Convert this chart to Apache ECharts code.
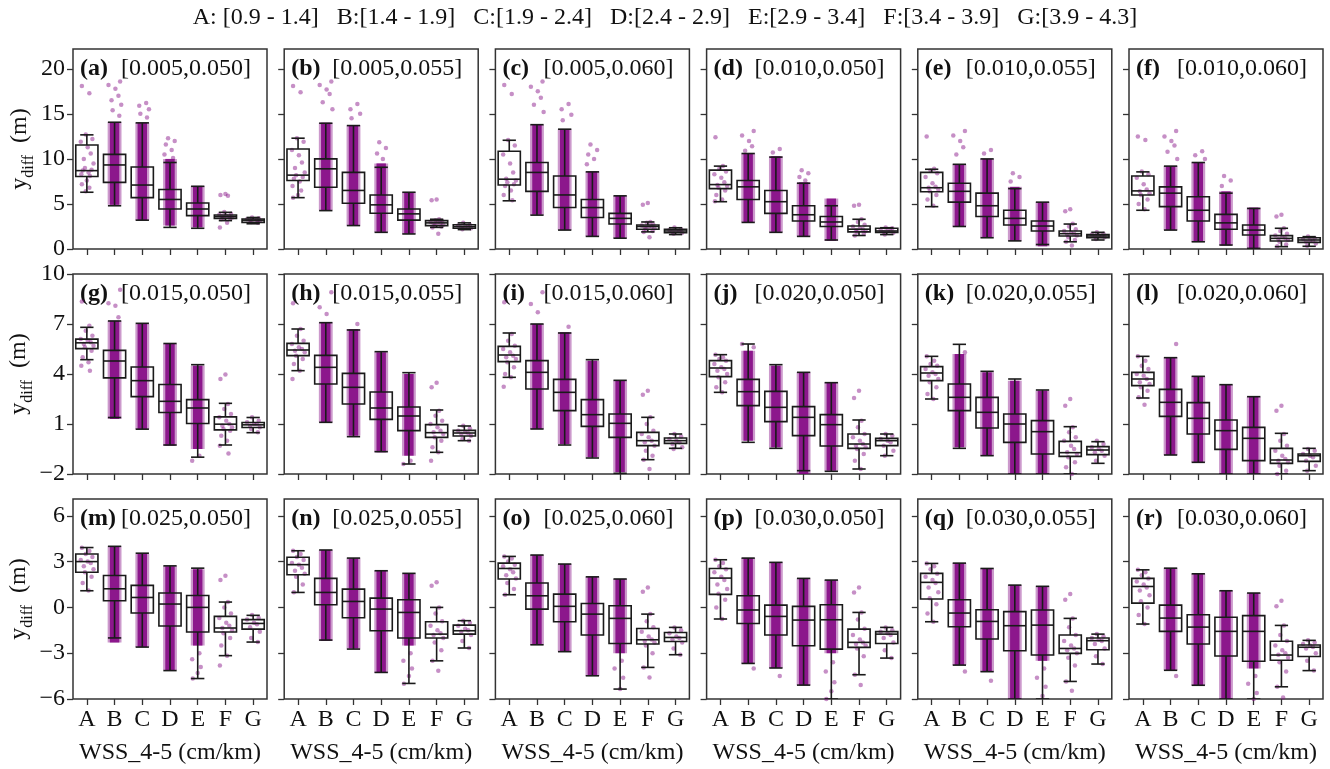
<!DOCTYPE html>
<html><head><meta charset="utf-8">
<script src="https://cdn.jsdelivr.net/npm/echarts@6/dist/echarts.min.js"></script>
<style>html,body{margin:0;padding:0;background:#fff}#c{width:1330px;height:769px}</style>
</head><body><div id="c"></div>
<script>
const categories = ['A','B','C','D','E','F','G'];
const legendText = 'A: [0.9 - 1.4]   B:[1.4 - 1.9]   C:[1.9 - 2.4]   D:[2.4 - 2.9]   E:[2.9 - 3.4]   F:[3.4 - 3.9]   G:[3.9 - 4.3]';
const panelLetters = ['(a)','(b)','(c)','(d)','(e)','(f)','(g)','(h)','(i)','(j)','(k)','(l)','(m)','(n)','(o)','(p)','(q)','(r)'];
const panelRanges = ['[0.005,0.050]','[0.005,0.055]','[0.005,0.060]','[0.010,0.050]','[0.010,0.055]','[0.010,0.060]',
  '[0.015,0.050]','[0.015,0.055]','[0.015,0.060]','[0.020,0.050]','[0.020,0.055]','[0.020,0.060]',
  '[0.025,0.050]','[0.025,0.055]','[0.025,0.060]','[0.030,0.050]','[0.030,0.055]','[0.030,0.060]'];
const yTicksRow1 = [0,5,10,15,20];
const yTicksRow2 = [-2,1,4,7,10];
const yTicksRow3 = [-6,-3,0,3,6];
const yRangeRow1 = [0,22.2];
const yRangeRow2 = [-2,10];
const yRangeRow3 = [-6,7.1];
const xAxisName = 'WSS_4-5 (cm/km)';

// box stats per category: [lower whisker, q1, median, q3, upper whisker]
const box_a = [[6.3,8.05,8.7,11.55,12.67],[4.8,7.4,9.33,10.5,14.07],[3.2,5.7,7.1,9.1,14.0],[2.4,4.44,5.5,6.6,9.6],[2.3,3.7,4.44,5.1,6.96],[3.15,3.4,3.6,3.78,4.07],[2.8,2.96,3.2,3.33,3.5]];
const box_b = [[5.7,7.6,8.2,11.1,12.3],[4.26,6.85,8.9,10.0,13.96],[2.6,5.07,6.5,8.5,13.7],[1.85,3.96,4.9,6.0,9.07],[1.67,3.2,3.9,4.44,6.3],[2.4,2.6,2.9,3.15,3.3],[2.15,2.3,2.48,2.7,2.9]];
const box_c = [[5.35,7.1,7.75,10.85,12.07],[3.76,6.4,8.5,9.6,13.8],[2.1,4.6,6.0,8.1,13.3],[1.4,3.5,4.6,5.5,8.56],[1.2,2.77,3.4,3.95,5.9],[1.9,2.2,2.5,2.66,3.0],[1.6,1.8,2.0,2.2,2.36]];
const box_d = [[5.25,6.7,7.15,8.75,9.2],[2.95,5.5,6.9,7.6,10.6],[1.85,3.95,5.25,6.5,10.2],[1.4,3.1,3.8,4.8,7.3],[1.0,2.5,3.0,3.6,4.8],[1.5,1.9,2.2,2.55,3.3],[1.6,1.85,2.0,2.3,2.36]];
const box_e = [[4.7,6.35,6.8,8.5,8.85],[2.5,5.2,6.4,7.3,9.4],[1.25,3.6,4.8,6.2,10.0],[0.9,2.66,3.4,4.3,6.7],[0.5,2.0,2.55,3.1,5.2],[0.8,1.44,1.7,2.0,2.77],[1.0,1.25,1.44,1.6,1.85]];
const box_f = [[4.3,6.0,6.45,8.1,8.56],[2.1,4.7,6.2,6.9,9.2],[0.8,3.1,4.3,5.8,9.6],[0.44,2.2,2.9,3.84,6.2],[0.07,1.55,2.1,2.66,4.5],[0.26,0.89,1.18,1.48,2.3],[0.3,0.74,1.0,1.25,1.37]];
const box_g = [[4.86,5.52,5.87,6.09,6.8],[1.39,3.77,4.78,5.42,7.18],[0.69,2.64,3.6,4.42,7.04],[-0.26,1.69,2.36,3.37,5.83],[-0.99,1.03,1.96,2.46,4.56],[-0.26,0.65,0.99,1.43,2.24],[0.48,0.79,0.95,1.09,1.39]];
const box_h = [[4.2,5.1,5.44,5.84,6.7],[1.1,3.4,4.4,5.12,7.08],[0.24,2.2,3.2,4.04,6.64],[-0.66,1.28,1.96,2.92,5.34],[-1.4,0.6,1.48,2.02,4.08],[-0.7,0.2,0.48,0.96,1.84],[0.0,0.28,0.46,0.62,0.88]];
const box_i = [[3.8,4.74,5.14,5.66,6.46],[0.7,3.1,4.1,4.8,7.0],[-0.26,1.8,2.9,3.68,6.46],[-1.04,0.86,1.56,2.46,4.86],[-1.96,0.2,1.04,1.6,3.62],[-1.14,-0.3,0.0,0.5,1.4],[-0.46,-0.16,0.0,0.16,0.4]];
const box_j = [[2.9,3.84,4.36,4.8,5.16],[-0.1,2.1,2.94,3.68,5.8],[-0.46,1.14,2.0,2.96,4.56],[-1.8,0.3,1.4,2.04,4.1],[-1.84,-0.32,0.96,1.56,3.48],[-1.7,-0.46,-0.2,0.4,1.24],[-0.9,-0.3,0.0,0.14,0.4]];
const box_k = [[2.5,3.6,4.06,4.44,5.06],[-0.46,1.8,2.6,3.4,5.78],[-0.9,0.76,1.7,2.6,4.16],[-2.0,-0.1,1.0,1.6,3.7],[-2.0,-0.8,0.54,1.2,3.04],[-2.0,-0.94,-0.72,-0.04,0.84],[-1.36,-0.84,-0.56,-0.36,-0.06]];
const box_l = [[2.56,3.3,3.7,4.1,5.06],[-0.86,1.46,2.3,3.08,4.98],[-1.3,0.4,1.34,2.28,3.86],[-2.0,-0.52,0.6,1.24,3.36],[-2.0,-1.2,0.14,0.8,2.64],[-2.0,-1.36,-1.16,-0.46,0.44],[-1.8,-1.24,-0.9,-0.8,-0.46]];
const box_m = [[1.09,2.3,3.0,3.5,3.92],[-2.0,0.44,1.22,2.09,4.0],[-2.6,-0.37,0.65,1.44,3.55],[-4.14,-1.22,0.22,0.94,2.72],[-4.66,-1.61,0.0,0.78,2.57],[-3.16,-1.61,-1.35,-0.59,0.35],[-2.27,-1.42,-1.05,-0.8,-0.52]];
const box_n = [[0.98,2.14,2.8,3.28,3.71],[-2.14,0.17,0.98,1.9,3.76],[-2.73,-0.68,0.39,1.2,3.23],[-4.26,-1.53,-0.11,0.61,2.4],[-4.98,-2.0,-0.33,0.5,2.23],[-3.5,-2.0,-1.75,-0.94,0.0],[-2.66,-1.75,-1.53,-1.16,-0.87]];
const box_o = [[0.83,1.86,2.55,2.9,3.34],[-2.45,-0.11,0.76,1.6,3.43],[-2.9,-0.94,0.07,0.87,2.84],[-4.48,-1.81,-0.44,0.26,2.0],[-5.35,-2.36,-0.72,0.11,1.86],[-3.93,-2.4,-2.12,-1.38,-0.44],[-3.1,-2.23,-1.97,-1.64,-1.31]];
const box_p = [[-0.76,0.85,1.92,2.55,3.12],[-3.67,-1.05,-0.17,0.76,3.23],[-3.97,-1.81,-0.59,0.15,2.95],[-5.09,-2.51,-0.83,0.07,1.9],[-6.0,-2.73,-0.81,0.17,1.79],[-4.41,-2.62,-2.29,-1.42,-0.33],[-3.32,-2.36,-1.75,-1.59,-1.31]];
const box_q = [[-0.94,0.55,1.64,2.23,2.88],[-3.78,-1.27,-0.37,0.5,2.9],[-4.21,-2.07,-0.92,-0.15,2.55],[-6.0,-2.84,-1.2,-0.28,1.46],[-6.0,-3.12,-1.16,-0.17,1.38],[-4.85,-3.01,-2.69,-1.81,-0.72],[-3.71,-2.77,-2.18,-2.0,-1.75]];
const box_r = [[-1.09,0.28,1.37,1.9,2.46],[-4.12,-1.57,-0.7,0.15,2.57],[-5.1,-2.4,-1.29,-0.48,2.2],[-6.0,-3.18,-1.57,-0.65,1.09],[-6.0,-3.53,-1.57,-0.54,0.94],[-5.2,-3.46,-3.12,-2.22,-1.18],[-4.14,-3.22,-2.61,-2.46,-2.16]];

// dense ranges of the strip points per category: [low, high] or null
const band_a = [null,[4.9,14.1],[3.2,14.0],[2.6,10.0],[2.4,7.0],null,null];
const band_b = [null,[4.3,14.0],[2.6,13.7],[1.9,9.5],[1.7,6.3],null,null];
const band_c = [null,[3.8,13.8],[2.1,13.3],[1.4,8.6],[1.2,5.9],null,null];
const band_d = [null,[3.0,10.6],[1.9,10.3],[1.4,7.4],[0.9,5.6],null,null];
const band_e = [null,[2.5,9.4],[1.3,10.0],[0.9,6.9],[0.3,5.2],null,null];
const band_f = [null,[2.1,9.2],[0.8,9.6],[0.4,6.4],[0.05,4.6],null,null];
const band_g = [null,[1.3,7.2],[0.7,7.0],[-0.3,5.8],[-0.5,4.5],null,null];
const band_h = [null,[1.1,7.1],[0.3,6.7],[-0.7,5.3],[-0.9,4.0],null,null];
const band_i = [null,[0.7,7.0],[-0.2,6.5],[-1.0,4.8],[-1.9,3.6],null,null];
const band_j = [null,[0.0,5.4],[-0.4,4.5],[-2.0,4.1],[-1.8,3.5],null,null];
const band_k = [null,[-0.4,5.2],[-0.9,4.1],[-2.0,3.6],[-2.0,3.0],null,null];
const band_l = [null,[-0.86,5.0],[-1.3,3.86],[-2.0,3.36],[-2.0,2.64],null,null];
const band_m = [null,[-2.3,4.0],[-2.6,3.5],[-4.1,2.7],[-2.5,2.5],null,null];
const band_n = [null,[-2.2,3.76],[-2.7,3.2],[-4.3,2.4],[-2.5,2.2],null,null];
const band_o = [null,[-2.45,3.43],[-2.9,2.84],[-4.5,2.0],[-3.0,1.86],null,null];
const band_p = [null,[-3.67,3.23],[-3.97,2.95],[-5.1,1.9],[-3.0,1.79],null,null];
const band_q = [null,[-3.78,2.9],[-4.21,2.55],[-6.0,1.46],[-3.5,1.38],null,null];
const band_r = [null,[-4.12,2.57],[-5.1,2.2],[-6.0,1.09],[-4.0,0.94],null,null];

// individually visible strip points per category
const pts_a = [[18.1,17.3,12.7,12.2,11.9,11.3,10.6,10.0,9.5,9.0,8.8,8.7,8.5,8.3,8.1,7.6,7.2,6.8,6.4],[18.6,18.2,17.8,17.0,16.5,16.0,15.4,14.8],[16.2,15.9,15.5,15.0,14.6],[12.3,12.0,11.6,11.0,10.5,10.1],[],[6.1,6.0,5.9,4.1,3.9,3.8,3.7,3.6,3.6,3.5,3.5,3.4,3.3,2.9,2.4],[3.5,3.4,3.3,3.3,3.2,3.2,3.1,3.0,2.9]];
const pts_b = [[18.1,17.4,12.3,11.9,11.0,10.4,9.6,9.0,8.5,8.2,8.0,7.8,7.5,7.0,6.5,6.0,5.7],[18.6,18.2,17.7,17.2,16.3,15.5],[16.1,15.5,15.0,14.5],[11.85,11.2,10.6,10.0],[],[5.5,5.4,3.3,3.2,3.1,3.0,2.9,2.9,2.8,2.7,2.6,2.5,2.4,1.7],[2.9,2.7,2.6,2.5,2.5,2.4,2.3,2.2]];
const pts_c = [[18.2,17.2,12.1,11.5,10.5,9.5,8.5,7.8,7.6,7.4,7.2,7.0,6.5,6.0,5.4],[18.6,18.0,17.5,16.8,16.0,15.2],[16.1,15.5,14.9,14.3],[11.6,11.0,10.5,10.0,9.4],[],[5.1,4.9,3.0,2.9,2.7,2.6,2.5,2.5,2.4,2.3,2.2,2.0,1.9,1.3],[2.4,2.2,2.1,2.0,2.0,1.9,1.8,1.7]];
const pts_d = [[12.4,9.2,8.9,8.6,8.3,7.9,7.4,7.1,7.0,6.8,6.5,6.0,5.5,5.3],[13.1,12.6,12.0,11.4,10.9],[11.1,10.7],[8.75,8.4,8.0,7.6],[],[4.9,4.8,3.3,3.0,2.7,2.5,2.3,2.2,2.1,2.0,1.9,1.7,1.5],[2.4,2.3,2.1,2.0,2.0,1.9,1.8,1.6]];
const pts_e = [[12.5,8.9,8.7,8.4,8.0,7.3,6.9,6.8,6.6,6.4,6.0,5.5,4.8],[13.1,12.6,12.0,11.3,10.5],[11.0,10.6],[8.4,8.0,7.5],[],[4.4,4.2,2.8,2.5,2.2,2.0,1.8,1.7,1.6,1.5,1.3,1.0,0.8,0.4],[1.85,1.7,1.6,1.5,1.45,1.4,1.3,1.1]];
const pts_f = [[12.5,12.1,8.6,8.3,7.9,7.2,6.6,6.4,6.2,6.0,5.5,5.0,4.4],[13.1,12.5,12.0,11.5,10.8,10.0],[10.85,10.4,10.0],[8.1,7.6,7.0],[],[3.8,3.6,2.3,2.0,1.7,1.5,1.3,1.2,1.1,1.0,0.8,0.5,0.3],[1.4,1.2,1.1,1.0,0.9,0.8,0.6,0.35]];
const pts_g = [[8.35,6.9,6.6,6.3,6.1,6.0,5.9,5.8,5.7,5.6,5.4,5.0,4.7,4.5,4.2],[9.05,8.25,8.1,7.4],[],[],[-0.9,-1.2],[3.97,3.7,2.2,1.9,1.6,1.4,1.2,1.0,0.9,0.8,0.7,0.6,0.3,0.0,-0.3,-0.77],[1.4,1.2,1.1,1.0,1.0,0.9,0.8,0.7,0.5]];
const pts_h = [[8.24,6.7,6.3,6.0,5.8,5.6,5.5,5.4,5.3,5.1,4.9,4.6,4.2,3.7],[8.9,8.0,7.6],[7.0],[],[-1.2,-1.4],[3.48,3.2,1.8,1.5,1.2,1.0,0.8,0.6,0.5,0.4,0.2,0.0,-0.4,-0.7,-1.2],[0.9,0.75,0.6,0.5,0.45,0.4,0.3,0.1,0.0]];
const pts_i = [[8.3,6.4,6.0,5.7,5.5,5.3,5.1,5.0,4.9,4.7,4.4,4.0,3.8,3.24],[8.9,8.2,7.7],[6.84],[],[],[3.0,2.76,1.4,1.0,0.6,0.4,0.2,0.0,-0.1,-0.3,-0.6,-0.9,-1.14,-1.7],[0.4,0.25,0.1,0.0,-0.1,-0.2,-0.4,-0.5]];
const pts_j = [[5.16,5.0,4.9,4.8,4.6,4.4,4.3,4.2,4.0,3.8,3.5,3.2,2.9],[5.6,5.8],[],[],[],[3.0,2.56,1.2,0.8,0.4,0.2,0.0,-0.2,-0.3,-0.4,-0.5,-0.8,-1.2,-1.7],[0.4,0.3,0.1,0.0,-0.1,-0.3,-0.6,-0.9]];
const pts_k = [[5.06,4.8,4.6,4.5,4.3,4.1,4.0,3.9,3.7,3.5,3.2,2.8,2.5],[5.3],[],[],[],[2.5,2.1,0.8,0.5,0.2,0.0,-0.3,-0.5,-0.7,-0.8,-1.0,-1.3,-1.6,-2.0],[0.0,-0.2,-0.4,-0.5,-0.6,-0.7,-0.9,-1.2]];
const pts_l = [[5.06,4.8,4.5,4.3,4.0,3.9,3.7,3.5,3.4,3.2,3.0,2.6,2.16],[5.8],[],[],[],[2.1,1.8,0.4,0.0,-0.3,-0.6,-0.9,-1.1,-1.2,-1.3,-1.5,-1.8,-2.0],[-0.5,-0.6,-0.8,-0.9,-1.0,-1.2,-1.5,-1.8]];
const pts_m = [[3.9,3.7,3.5,3.3,3.1,3.0,2.9,2.7,2.5,2.3,2.0,1.6,1.1],[],[],[],[-3.0,-3.4,-3.9,-4.3,-4.66],[2.07,1.8,0.35,0.0,-0.4,-0.7,-1.0,-1.2,-1.35,-1.5,-1.7,-2.0,-2.5,-3.16,-3.8],[-0.5,-0.7,-0.8,-1.0,-1.1,-1.3,-1.6,-2.0,-2.27]];
const pts_n = [[3.71,3.5,3.3,3.1,2.9,2.8,2.6,2.4,2.2,2.0,1.5,1.0],[],[],[],[-3.0,-3.5,-4.0,-4.5,-5.0],[1.64,1.42,0.0,-0.4,-0.9,-1.2,-1.5,-1.7,-1.8,-2.0,-2.3,-2.8,-3.5,-4.15],[-0.87,-1.0,-1.2,-1.4,-1.5,-1.6,-1.8,-2.2,-2.66]];
const pts_o = [[3.34,3.2,3.0,2.8,2.7,2.5,2.3,2.1,1.9,1.6,1.2,0.83],[],[],[],[-3.5,-4.0,-4.6,-5.35],[1.31,1.03,-0.44,-0.9,-1.3,-1.6,-1.9,-2.1,-2.2,-2.3,-2.5,-3.0,-3.93,-4.59],[-1.31,-1.5,-1.7,-1.9,-2.0,-2.1,-2.3,-2.7,-3.1]];
const pts_p = [[3.12,2.9,2.7,2.5,2.3,2.0,1.8,1.5,1.2,0.9,0.5,0.0,-0.76],[-4.0],[-4.5],[],[-3.6,-4.2,-4.9,-5.5,-6.0],[1.31,0.98,-0.33,-0.8,-1.4,-1.8,-2.1,-2.3,-2.4,-2.5,-2.7,-3.2,-4.41,-5.09],[-1.31,-1.5,-1.6,-1.7,-1.8,-2.0,-2.3,-2.8,-3.32]];
const pts_q = [[2.88,2.7,2.5,2.2,2.0,1.8,1.6,1.3,1.0,0.6,0.2,-0.4,-0.94],[-4.2],[-4.8],[],[-4.0,-4.6,-5.2,-5.8],[0.87,0.5,-0.72,-1.3,-1.8,-2.2,-2.5,-2.7,-2.8,-3.0,-3.3,-3.8,-4.85,-5.46],[-1.75,-1.9,-2.0,-2.1,-2.2,-2.4,-2.7,-3.2,-3.71]];
const pts_r = [[2.46,2.3,2.1,1.9,1.7,1.5,1.3,1.1,0.8,0.4,0.0,-0.5,-1.09],[-4.5],[],[],[-4.5,-5.0,-5.6,-6.0],[0.44,0.07,-1.18,-1.8,-2.2,-2.5,-2.8,-3.0,-3.1,-3.3,-3.6,-4.2,-5.2,-5.9],[-2.16,-2.3,-2.4,-2.5,-2.6,-2.7,-3.0,-3.5,-4.14]];

const boxes = [box_a,box_b,box_c,box_d,box_e,box_f,box_g,box_h,box_i,box_j,box_k,box_l,box_m,box_n,box_o,box_p,box_q,box_r];
const bands = [band_a,band_b,band_c,band_d,band_e,band_f,band_g,band_h,band_i,band_j,band_k,band_l,band_m,band_n,band_o,band_p,band_q,band_r];
const points = [pts_a,pts_b,pts_c,pts_d,pts_e,pts_f,pts_g,pts_h,pts_i,pts_j,pts_k,pts_l,pts_m,pts_n,pts_o,pts_p,pts_q,pts_r];
const rowTicks = [yTicksRow1, yTicksRow2, yTicksRow3];
const rowRanges = [yRangeRow1, yRangeRow2, yRangeRow3];

// ---- layout / style ----
const FONT = '"Liberation Serif","Times New Roman",serif';
const GL = 73, GSTEP = 211.2, GW = 194, GTOPS = [49, 274, 499], GH = 200;
const JIT = [-0.18,0.09,-0.04,0.2,-0.22,0.03,0.14,-0.11,0.24,-0.07,0.17,-0.15,0.06,-0.2,0.11,0.0];
const fmtNum = v => (v < 0 ? '\u2212' + Math.abs(v) : String(v));

function renderBox(params, api) {
  const x = api.value(0), lo = api.value(1), q1 = api.value(2), med = api.value(3), q3 = api.value(4), hi = api.value(5);
  const bw = 0.4, cw = 0.24;
  const tl = api.coord([x - bw, q3]), br = api.coord([x + bw, q1]);
  const mL = api.coord([x - bw, med]), mR = api.coord([x + bw, med]);
  const h = api.coord([x, hi]), l = api.coord([x, lo]);
  const chL = api.coord([x - cw, hi]), chR = api.coord([x + cw, hi]);
  const clL = api.coord([x - cw, lo]), clR = api.coord([x + cw, lo]);
  const st = {stroke: '#1a1a1a', lineWidth: 1.6, fill: null};
  return {type: 'group', children: [
    {type: 'line', shape: {x1: h[0], y1: h[1], x2: h[0], y2: tl[1]}, style: st},
    {type: 'line', shape: {x1: l[0], y1: l[1], x2: l[0], y2: br[1]}, style: st},
    {type: 'line', shape: {x1: chL[0], y1: chL[1], x2: chR[0], y2: chR[1]}, style: st},
    {type: 'line', shape: {x1: clL[0], y1: clL[1], x2: clR[0], y2: clR[1]}, style: st},
    {type: 'rect', shape: {x: tl[0], y: tl[1], width: br[0] - tl[0], height: br[1] - tl[1]}, style: {stroke: '#1a1a1a', lineWidth: 1.6, fill: 'none'}},
    {type: 'line', shape: {x1: mL[0], y1: mL[1], x2: mR[0], y2: mR[1]}, style: st}
  ]};
}
function renderBand(params, api) {
  const x = api.value(0), lo = api.value(1), hi = api.value(2);
  const a = api.coord([x - 0.17, hi]), b = api.coord([x + 0.17, lo]);
  const a2 = api.coord([x - 0.25, hi]), b2 = api.coord([x + 0.25, lo]);
  return {type: 'group', children: [
    {type: 'rect', shape: {x: a2[0], y: a2[1], width: b2[0] - a2[0], height: b2[1] - a2[1]}, style: {fill: 'rgba(128,0,128,0.4)'}},
    {type: 'rect', shape: {x: a[0], y: a[1], width: b[0] - a[0], height: b[1] - a[1]}, style: {fill: 'rgba(128,0,128,0.85)'}}
  ]};
}

const grid = [], xAxis = [], yAxis = [], series = [], graphic = [];
graphic.push({type: 'text', x: 665, y: 18, style: {text: legendText, font: '24px ' + FONT, fill: '#111', align: 'center', verticalAlign: 'middle', textAlign: 'center', textVerticalAlign: 'middle'}});

for (let g = 0; g < 18; g++) {
  const r = Math.floor(g / 6), c = g % 6;
  const left = GL + c * GSTEP, top = GTOPS[r];
  grid.push({left: left, top: top, width: GW, height: GH, show: true, borderColor: '#333', borderWidth: 1.5, backgroundColor: 'transparent'});
  xAxis.push({
    type: 'category', gridIndex: g, data: categories, boundaryGap: true, position: 'bottom',
    axisLine: {show: false, onZero: false},
    axisTick: {show: true, alignWithLabel: true, length: 6, lineStyle: {color: '#333', width: 1.3}},
    axisLabel: {show: r === 2, margin: 9, fontFamily: FONT, fontSize: 24, color: '#111'},
    name: r === 2 ? xAxisName : '', nameLocation: 'middle', nameGap: 42,
    nameTextStyle: {fontFamily: FONT, fontSize: 24, color: '#111'}
  });
  xAxis.push({type: 'value', gridIndex: g, min: -0.5, max: 6.5, show: false, axisLine: {onZero: false}});
  yAxis.push({
    type: 'value', gridIndex: g, min: rowRanges[r][0], max: rowRanges[r][1], position: 'left',
    axisLine: {show: false, onZero: false}, splitLine: {show: false},
    axisTick: {show: true, length: 6, customValues: rowTicks[r], lineStyle: {color: '#333', width: 1.3}},
    axisLabel: {show: c === 0, customValues: rowTicks[r], margin: 8, fontFamily: FONT, fontSize: 24, color: '#111', formatter: fmtNum},
    name: c === 0 ? '{y|y}{s|diff}  {m|(m)}' : '', nameLocation: 'middle', nameGap: 27, nameRotate: 90,
    nameTextStyle: {fontFamily: FONT, fontSize: 24, color: '#111', rich: {
      y: {fontFamily: FONT, fontSize: 24, color: '#111', lineHeight: 34},
      s: {fontFamily: FONT, fontSize: 16, color: '#111', verticalAlign: 'bottom', lineHeight: 16},
      m: {fontFamily: FONT, fontSize: 24, color: '#111', lineHeight: 34}
    }}
  });
  const bandData = [];
  bands[g].forEach((b, i) => { if (b) bandData.push([i, b[0], b[1]]); });
  const ptData = [];
  points[g].forEach((list, i) => list.forEach((v, k) => ptData.push([i + JIT[(k + i * 3) % JIT.length], v])));
  const boxData = boxes[g].map((b, i) => [i, b[0], b[1], b[2], b[3], b[4]]);
  series.push({type: 'custom', xAxisIndex: 2 * g + 1, yAxisIndex: g, renderItem: renderBand, data: bandData, clip: true, z: 2, silent: true, encode: {x: 0, y: [1, 2]}});
  series.push({type: 'scatter', xAxisIndex: 2 * g + 1, yAxisIndex: g, data: ptData, symbolSize: 4.5, clip: true, z: 3, silent: true,
    itemStyle: {color: 'rgba(135,20,135,0.6)'}});
  series.push({type: 'custom', xAxisIndex: 2 * g + 1, yAxisIndex: g, renderItem: renderBox, data: boxData, clip: true, z: 4, silent: true, encode: {x: 0, y: [1, 2, 3, 4, 5]}});
  graphic.push({type: 'text', x: left + 7, y: top + 20, style: {text: panelLetters[g], font: 'bold 24px ' + FONT, fill: '#111', verticalAlign: 'middle', textVerticalAlign: 'middle'}});
  graphic.push({type: 'text', x: left + 48, y: top + 20, style: {text: panelRanges[g], font: '24px ' + FONT, fill: '#111', verticalAlign: 'middle', textVerticalAlign: 'middle'}});
}

const chart = echarts.init(document.getElementById('c'), null, {renderer: 'canvas'});
chart.setOption({animation: false, backgroundColor: '#fff', grid, xAxis, yAxis, series, graphic});
</script>
</body></html>
